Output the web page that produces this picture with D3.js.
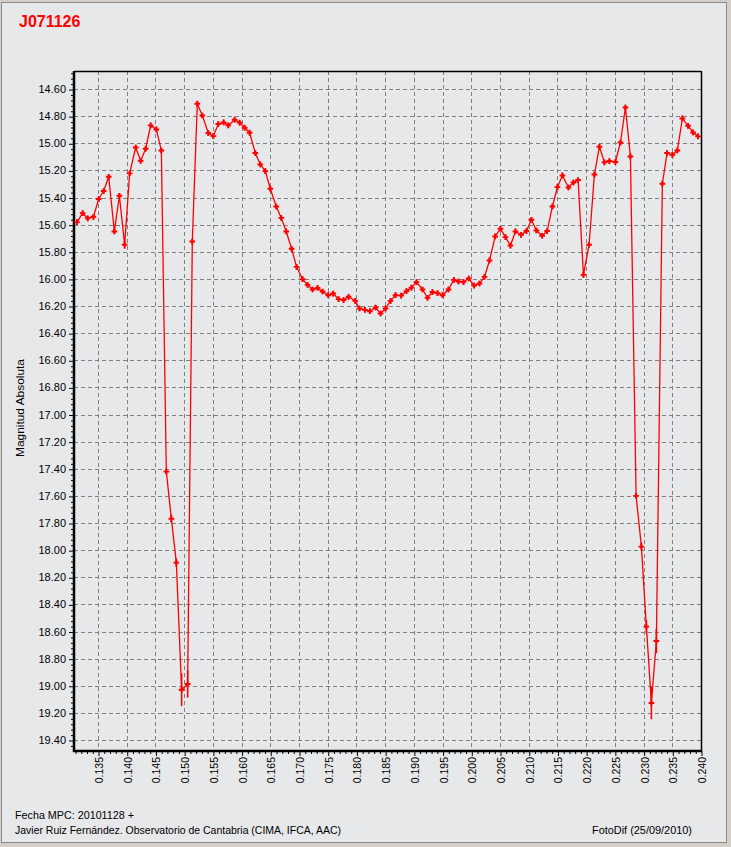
<!DOCTYPE html>
<html>
<head>
<meta charset="utf-8">
<script src="https://cdn.jsdelivr.net/npm/d3@7"></script>
<style>
  html, body { margin: 0; padding: 0; background: #d4d0c8; }
  svg { display: block; }
</style>
</head>
<body>
<svg id="chart" width="731" height="847"></svg>
<script>
// ---------------- DATA ----------------
const title = "J071126";
const yTitle = "Magnitud Absoluta";
const footLeft1 = "Fecha MPC: 20101128 +";
const footLeft2 = "Javier Ruiz Fernández. Observatorio de Cantabria (CIMA, IFCA, AAC)";
const footRight = "FotoDif (25/09/2010)";

const xDomain = [0.13082, 0.2400];
const yDomain = [14.467, 19.481];

const xTicks = [0.135,0.140,0.145,0.150,0.155,0.160,0.165,0.170,0.175,0.180,0.185,
                0.190,0.195,0.200,0.205,0.210,0.215,0.220,0.225,0.230,0.235,0.240];
const yTicks = [14.60,14.80,15.00,15.20,15.40,15.60,15.80,16.00,16.20,16.40,16.60,16.80,
                17.00,17.20,17.40,17.60,17.80,18.00,18.20,18.40,18.60,18.80,19.00,19.20,19.40];

const phase = [
  0.13134,0.13233,0.13320,0.13420,0.13512,0.13599,0.13686,0.13785,0.13872,0.13964,
  0.14051,0.14156,0.14243,0.14330,0.14417,0.14516,0.14603,0.14690,0.14777,0.14864,
  0.14956,0.15061,0.15142,0.15229,0.15317,0.15421,0.15508,0.15595,0.15687,0.15769,
  0.15879,0.15966,0.16053,0.16140,0.16239,0.16326,0.16413,0.16500,0.16604,0.16691,
  0.16778,0.16871,0.16958,0.17062,0.17149,0.17236,0.17323,0.17410,0.17509,0.17596,
  0.17689,0.17776,0.17863,0.17980,0.18054,0.18147,0.18234,0.18333,0.18420,0.18507,
  0.18594,0.18681,0.18780,0.18872,0.18959,0.19046,0.19151,0.19238,0.19325,0.19412,
  0.19499,0.19603,0.19696,0.19777,0.19864,0.19956,0.20050,0.20143,0.20230,0.20317,
  0.20416,0.20508,0.20595,0.20682,0.20769,0.20868,0.20960,0.21047,0.21134,0.21234,
  0.21321,0.21413,0.21500,0.21587,0.21692,0.21779,0.21860,0.21953,0.22051,0.22144,
  0.22231,0.22318,0.22405,0.22510,0.22597,0.22684,0.22771,0.22870,0.22962,0.23049,
  0.23136,0.23223,0.23327,0.23409,0.23502,0.23588,0.23676,0.23775,0.23862,0.23949
];
const magnitude = [
  15.581,15.515,15.554,15.542,15.411,15.352,15.247,15.650,15.387,15.748,
  15.222,15.031,15.129,15.040,14.868,14.898,15.053,17.421,17.768,18.092,
  19.029,18.987,15.724,14.708,14.795,14.924,14.947,14.858,14.846,14.868,
  14.826,14.848,14.885,14.922,15.072,15.156,15.205,15.335,15.466,15.550,
  15.650,15.778,15.911,16.002,16.044,16.078,16.066,16.093,16.120,16.108,
  16.149,16.156,16.132,16.162,16.218,16.228,16.238,16.211,16.255,16.218,
  16.162,16.120,16.123,16.090,16.064,16.024,16.078,16.139,16.097,16.105,
  16.120,16.078,16.007,16.019,16.024,15.997,16.049,16.034,15.985,15.864,
  15.687,15.630,15.692,15.754,15.650,15.675,15.647,15.564,15.643,15.682,
  15.647,15.466,15.323,15.237,15.326,15.289,15.271,15.970,15.748,15.230,
  15.025,15.141,15.131,15.138,14.994,14.736,15.097,17.600,17.974,18.564,
  19.127,18.670,15.298,15.072,15.085,15.053,14.817,14.871,14.920,14.949
];
const errorBar = [
  0.02,0.02,0.02,0.02,0.02,0.02,0.02,0.02,0.02,0.03,
  0.02,0.02,0.02,0.02,0.02,0.02,0.02,0.02,0.03,0.03,
  0.12,0.10,0.02,0.02,0.02,0.02,0.02,0.02,0.02,0.02,
  0.02,0.02,0.02,0.02,0.02,0.02,0.02,0.02,0.02,0.02,
  0.02,0.02,0.02,0.02,0.02,0.02,0.02,0.02,0.02,0.02,
  0.02,0.02,0.02,0.02,0.02,0.02,0.02,0.02,0.02,0.02,
  0.02,0.02,0.02,0.02,0.02,0.02,0.02,0.02,0.02,0.02,
  0.02,0.02,0.02,0.02,0.02,0.02,0.02,0.02,0.02,0.02,
  0.02,0.02,0.02,0.02,0.02,0.02,0.02,0.02,0.02,0.02,
  0.02,0.02,0.02,0.02,0.02,0.02,0.02,0.02,0.02,0.02,
  0.02,0.02,0.02,0.02,0.02,0.02,0.02,0.02,0.03,0.05,
  0.12,0.09,0.02,0.02,0.02,0.02,0.02,0.02,0.02,0.02
];

// ---------------- LAYOUT ----------------
const svg = d3.select("#chart");
const L = 74, R = 701, T = 71, B = 751;
const red = "#ff0000";
const panelFill = "#e7e8ea";

svg.append("rect").attr("x", 0).attr("y", 0).attr("width", 731).attr("height", 847).attr("fill", "#d4d0c8");
svg.append("rect").attr("x", 1.5).attr("y", 2.5).attr("width", 725).attr("height", 840)
  .attr("fill", panelFill).attr("stroke", "#8a8a8a").attr("stroke-width", 1);

const x = d3.scaleLinear().domain(xDomain).range([L, R]);
const y = d3.scaleLinear().domain(yDomain).range([T, B]);

// grid
const grid = svg.append("g").attr("stroke", "#808080").attr("stroke-width", 1).attr("stroke-dasharray", "4,3");
grid.selectAll("line.gy").data(yTicks).join("line")
  .attr("x1", L).attr("x2", R)
  .attr("y1", d => Math.round(y(d)) + 0.5).attr("y2", d => Math.round(y(d)) + 0.5);
grid.selectAll("line.gx").data(xTicks.filter(d => d < 0.2399)).join("line")
  .attr("y1", T).attr("y2", B)
  .attr("x1", d => Math.round(x(d)) + 0.5).attr("x2", d => Math.round(x(d)) + 0.5);

// minor ticks
const xMinor = d3.range(0.131, 0.2405, 0.001).filter(v => Math.abs(v * 200 - Math.round(v * 200)) > 1e-6);
const yMinor = d3.range(14.48, 19.48, 0.04).filter(v => Math.abs(v * 5 - Math.round(v * 5)) > 1e-6);
const axisFont = "'Liberation Sans', Arial, sans-serif";

const xAxisMinor = d3.axisBottom(x).tickValues(xMinor).tickSize(3).tickFormat("");
const yAxisMinor = d3.axisLeft(y).tickValues(yMinor).tickSize(3).tickFormat("");
svg.append("g").attr("transform", `translate(0,${B})`).call(xAxisMinor)
  .call(g => g.select(".domain").remove())
  .call(g => g.selectAll("line").attr("stroke", "#000").attr("transform", "translate(0.5,0)"));
svg.append("g").attr("transform", `translate(${L},0)`).call(yAxisMinor)
  .call(g => g.select(".domain").remove())
  .call(g => g.selectAll("line").attr("stroke", "#000").attr("transform", "translate(0,0.5)"));

// major axes
const yAxis = d3.axisLeft(y).tickValues(yTicks).tickSize(5).tickPadding(3).tickFormat(d3.format(".2f"));
svg.append("g").attr("transform", `translate(${L},0)`).call(yAxis)
  .call(g => g.select(".domain").remove())
  .call(g => g.selectAll("line").attr("stroke", "#000").attr("transform", "translate(0,0.5)"))
  .call(g => g.selectAll("text").attr("fill", "#000").style("font-family", axisFont).style("font-size", "11px"));

const xAxis = d3.axisBottom(x).tickValues(xTicks).tickSize(5).tickFormat(d3.format(".3f"));
const xg = svg.append("g").attr("transform", `translate(0,${B})`).call(xAxis);
xg.select(".domain").remove();
xg.selectAll("line").attr("stroke", "#000").attr("transform", "translate(0.5,0)");
xg.selectAll("text")
  .attr("fill", "#000")
  .style("font-family", axisFont).style("font-size", "10.5px")
  .attr("text-anchor", "end")
  .attr("dy", null)
  .attr("y", 0)
  .attr("transform", "translate(0,6) rotate(-90)")
  .attr("x", -0)
  .attr("dominant-baseline", "central");
xg.selectAll(".tick text").attr("transform", "translate(0.5,6) rotate(-90)");

// frame
svg.append("line").attr("x1", L + 0.5).attr("x2", R).attr("y1", T + 0.5).attr("y2", T + 0.5).attr("stroke", "#000").attr("stroke-width", 1.5);
svg.append("line").attr("x1", R + 0.5).attr("x2", R + 0.5).attr("y1", T).attr("y2", B).attr("stroke", "#000").attr("stroke-width", 1.5);
svg.append("line").attr("x1", L).attr("x2", L).attr("y1", T).attr("y2", B + 1).attr("stroke", "#000").attr("stroke-width", 2.5);
svg.append("line").attr("x1", L - 1).attr("x2", R + 1).attr("y1", B).attr("y2", B).attr("stroke", "#000").attr("stroke-width", 2.5);

// data
const data = phase.map((p, i) => ({ p, m: magnitude[i], e: errorBar[i] }));
const plot = svg.append("g");
plot.append("path").datum(data)
  .attr("fill", "none").attr("stroke", red).attr("stroke-width", 1.3)
  .attr("d", d3.line().x(d => x(d.p)).y(d => y(d.m)));
plot.selectAll("line.err").data(data).join("line")
  .attr("x1", d => x(d.p)).attr("x2", d => x(d.p))
  .attr("y1", d => y(d.m - d.e)).attr("y2", d => y(d.m + d.e))
  .attr("stroke", red).attr("stroke-width", 1.6);
plot.selectAll("path.pt").data(data).join("path")
  .attr("transform", d => `translate(${x(d.p)},${y(d.m)})`)
  .attr("d", d3.symbol().type(d3.symbolCross).size(18))
  .attr("fill", red);

// texts
svg.append("text").attr("x", 19).attr("y", 27).text(title)
  .attr("fill", red).style("font-family", axisFont).style("font-weight", "bold").style("font-size", "16px");

svg.append("text").attr("transform", "translate(24,408) rotate(-90)")
  .attr("text-anchor", "middle").text(yTitle)
  .attr("fill", "#000").style("font-family", axisFont).style("font-size", "10.5px")
  .attr("textLength", 98).attr("lengthAdjust", "spacingAndGlyphs");

const footFont = "'Liberation Sans Narrow', 'Arial Narrow', 'Liberation Sans', sans-serif";
svg.append("text").attr("x", 15).attr("y", 819).text(footLeft1)
  .attr("fill", "#000").style("font-family", footFont).style("font-size", "11px")
  .attr("textLength", 119).attr("lengthAdjust", "spacingAndGlyphs");
svg.append("text").attr("x", 15).attr("y", 834).text(footLeft2)
  .attr("fill", "#000").style("font-family", footFont).style("font-size", "11px")
  .attr("textLength", 326).attr("lengthAdjust", "spacingAndGlyphs");
svg.append("text").attr("x", 592).attr("y", 834).text(footRight)
  .attr("fill", "#000").style("font-family", footFont).style("font-size", "11px")
  .attr("textLength", 100).attr("lengthAdjust", "spacingAndGlyphs");
</script>
</body>
</html>
